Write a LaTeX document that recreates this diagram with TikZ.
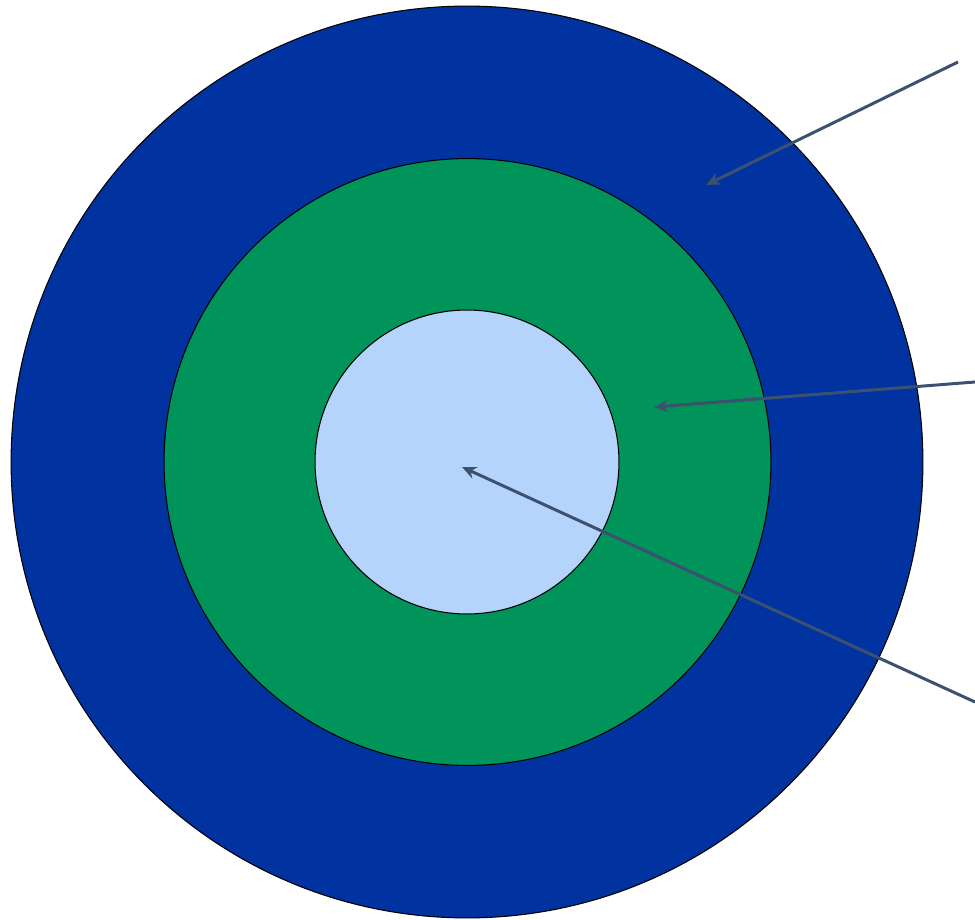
\documentclass[tikz,border=0pt]{standalone}
\usetikzlibrary{arrows.meta}
\definecolor{ringblue}{HTML}{0033A0}
\definecolor{ringgreen}{HTML}{00935A}
\definecolor{corelight}{HTML}{B4D4FC}
\definecolor{pointer}{HTML}{3C5070}
\begin{document}
\begin{tikzpicture}[x=0.02cm, y=-0.02cm,
                ring/.style={draw=black, circle, inner sep=0pt, line width=0.6pt},
                ar/.style={-{Stealth[length=8pt, width=7pt]}, line width=1.7pt, draw=pointer}
            ]
            \useasboundingbox (0,0) rectangle (975,920);
            \node[ring, fill=ringblue,  minimum size=18.24cm] (outer)  at (467, 462) {};
            \node[ring, fill=ringgreen, minimum size=12.14cm] (middle) at (467.5, 462) {};
            \node[ring, fill=corelight, minimum size=6.08cm]  (inner)  at (467, 462) {};
            \coordinate (s1) at (958, 62);
            \coordinate (t1) at (706, 185);
            \coordinate (s2) at (975, 382);
            \coordinate (t2) at (654, 407);
            \coordinate (s3) at (975, 702);
            \coordinate (t3) at (462, 467);
            \draw[ar] (s1) -- (t1);
            \draw[ar] (s2) -- (t2);
            \draw[ar] (s3) -- (t3);
            \end{tikzpicture}
\end{document}
